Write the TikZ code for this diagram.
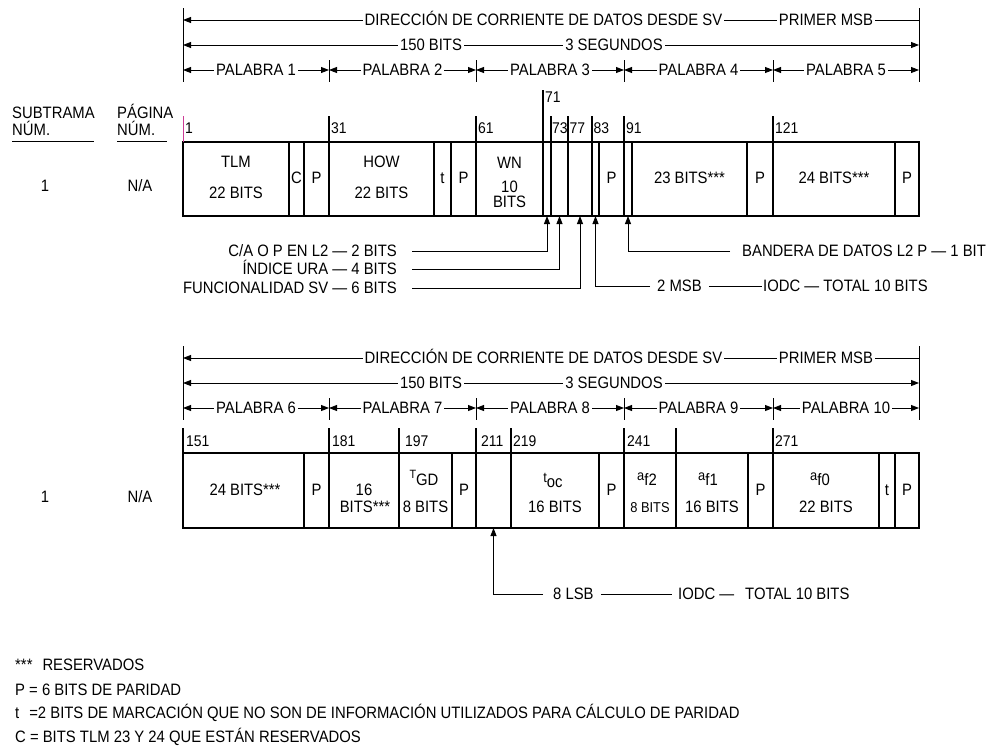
\documentclass[tikz,border=0pt]{standalone}
\usepackage{fontspec}
\setmainfont{Liberation Sans}[FakeStretch=0.9]
\usetikzlibrary{arrows.meta}
\definecolor{tickpink}{RGB}{205,60,150}
\newcommand{\hdrblock}[2]{%
  \begin{scope}[shift={(0,#1)}]
    \coordinate (hl#2) at (183,20);
    \coordinate (hr#2) at (919,20);
    \draw[ln] (183,8) -- (183,82);
    \draw[ln] (919,8) -- (919,82);
    \foreach \x in {329,476,624,773} \draw[ln] (\x,60) -- (\x,82);
    \draw[ln,{Triangle[length=8pt,width=6pt]}-] (hl#2) -- (hr#2);
    \node[lbl] (dir#2) at (543.5,20) {DIRECCIÓN DE CORRIENTE DE DATOS DESDE SV};
    \node[lbl] (msb#2) at (826,20) {PRIMER MSB};
    \coordinate (bl#2) at (183,45);
    \coordinate (br#2) at (919,45);
    \draw[darr] (bl#2) -- (br#2);
    \node[lbl] (bits#2) at (431,45) {150 BITS};
    \node[lbl] (seg#2) at (614,45) {3 SEGUNDOS};
    \foreach \a/\b [count=\i from 0] in {183/329,329/476,476/624,624/773,773/919}{
      \pgfmathtruncatemacro{\w}{#2+\i}
      \coordinate (wa\w) at (\a,70);
      \coordinate (wb\w) at (\b,70);
      \draw[darr] (wa\w) -- (wb\w);
      \node[lbl] (pal\w) at ({(\a+\b)/2},70) {PALABRA \w};
    }
  \end{scope}}
\begin{document}
\begin{tikzpicture}[x=1pt,y=-1pt,
  every node/.style={font=\fontsize{16.5}{16.5}\selectfont, text height=11.8pt, text depth=0pt, inner sep=0pt},
  ln/.style={line width=0.9pt},
  bx/.style={line width=1.1pt},
  arr/.style={line width=0.9pt, -{Triangle[length=8pt,width=6pt]}},
  darr/.style={line width=0.9pt, {Triangle[length=8pt,width=6pt]}-{Triangle[length=8pt,width=6pt]}},
  lbl/.style={fill=white, inner xsep=2pt, inner ysep=1pt},
  num/.style={anchor=west, font=\fontsize{15.5}{15.5}\selectfont, text height=11.1pt},
  small/.style={font=\fontsize{14.3}{14.3}\selectfont, text height=10.2pt},
]
\useasboundingbox (0,0) rectangle (996,750);

% ================= headers =================
\hdrblock{0}{1}
\hdrblock{338}{6}

% ================= frame 1 =================
\node[anchor=west] (sub1) at (12,112.5) {SUBTRAMA};
\node[anchor=west] (subn1) at (12,130) {NÚM.};
\draw[ln] (12,141) -- (94,141);
\node[anchor=west] (pag1) at (117,112.5) {PÁGINA};
\node[anchor=west] (pagn1) at (117,130) {NÚM.};
\draw[ln] (117,141) -- (167,141);
\node (sf1) at (45,186) {1};
\node (na1) at (140,186) {N/A};

\draw[bx] (183,142) rectangle (919,216);
\draw[ln,tickpink] (183,116) -- (183,142);
\foreach \x in {329,476,551,568,592,624,773} \draw[bx] (\x,116) -- (\x,216);
\draw[bx] (543,90) -- (543,216);
\foreach \x in {289,304,434,451,599,632,747,895} \draw[bx] (\x,142) -- (\x,216);

\node[num] (n1) at (185,128) {1};
\node[num] (n31) at (331,128) {31};
\node[num] (n61) at (478,128) {61};
\node[num] (n71) at (545,97) {71};
\node[num] (n73) at (552,128) {73};
\node[num] (n77) at (569.5,128) {77};
\node[num] (n83) at (593.5,128) {83};
\node[num] (n91) at (626,128) {91};
\node[num] (n121) at (775,128) {121};

\node (tlm) at (236,162) {TLM};
\node (tlmb) at (236,193) {22 BITS};
\node (c1) at (296.5,178) {C};
\node (p1) at (316.5,178) {P};
\node (how) at (381.5,162) {HOW};
\node (howb) at (381.5,193) {22 BITS};
\node (t1) at (442.5,178) {t};
\node (p2) at (463.5,178) {P};
\node (wn) at (509.5,163) {WN};
\node (wn10) at (509.5,187) {10};
\node (wnb) at (509.5,202) {BITS};
\node (p3) at (611.5,178) {P};
\node (b23) at (689.5,178) {23 BITS***};
\node (p4) at (760,178) {P};
\node (b24) at (834,178) {24 BITS***};
\node (p5) at (907,178) {P};

% field points (arrow tips)
\coordinate (fca) at (547,216);
\coordinate (fura) at (559.5,216);
\coordinate (fsv) at (580,216);
\coordinate (fmsb) at (595.5,216);
\coordinate (fl2) at (628,216);

\node[anchor=east] (lca) at (397,251) {C/A O P EN L2 — 2 BITS};
\node[anchor=east] (lura) at (397,269) {ÍNDICE URA — 4 BITS};
\node[anchor=east] (lsv) at (397,288) {FUNCIONALIDAD SV — 6 BITS};
\draw[arr] ([xshift=15pt]lca.east) -| (fca);
\draw[arr] ([xshift=15pt]lura.east) -| (fura);
\draw[arr] ([xshift=15pt]lsv.east) -| (fsv);

\node[anchor=west] (lban) at (742,251) {BANDERA DE DATOS L2 P — 1 BIT};
\draw[arr] ([xshift=-12pt]lban.west) -| (fl2);
\node[anchor=west] (lmsb) at (657,286) {2 MSB};
\node[anchor=west] (liodc) at (763,286) {IODC — TOTAL 10 BITS};
\draw[arr] ([xshift=-7pt]lmsb.west) -| (fmsb);
\draw[ln] ([xshift=7pt]lmsb.east) -- ([xshift=-1pt]liodc.west);

% ================= frame 2 =================
\node (sf2) at (45,497) {1};
\node (na2) at (140,497) {N/A};

\draw[bx] (183,453) rectangle (919,528);
\foreach \x in {183,329,399,476,511,624,676,773} \draw[bx] (\x,428) -- (\x,528);
\foreach \x in {304,452,599,748,879,895} \draw[bx] (\x,453) -- (\x,528);

\node[num] (n151) at (186,441) {151};
\node[num] (n181) at (332,441) {181};
\node[num] (n197) at (405,441) {197};
\node[num] (n211) at (481,441) {211};
\node[num] (n219) at (513,441) {219};
\node[num] (n241) at (627,441) {241};
\node[num] (n271) at (775,441) {271};

\node (c24) at (245,490) {24 BITS***};
\node (q1) at (316.5,490) {P};
\node (c16a) at (364,490) {16};
\node (c16b) at (365,507) {BITS***};
\node[anchor=base] (tgd) at (424,478) {{\fontsize{12}{12}\selectfont T}\raisebox{-7pt}{GD}};
\node (tgdb) at (425.5,507) {8 BITS};
\node (q2) at (464,490) {P};
\node[anchor=base] (toc) at (553,482) {{\fontsize{14.3}{14.3}\selectfont t}\raisebox{-5pt}{oc}};
\node (tocb) at (555,507) {16 BITS};
\node (q3) at (611.5,490) {P};
\node[anchor=base] (af2) at (647,480) {{\fontsize{14.3}{14.3}\selectfont a}\raisebox{-5pt}{f2}};
\node[small] (af2b) at (650,507) {8 BITS};
\node[anchor=base] (af1) at (708,480) {{\fontsize{14.3}{14.3}\selectfont a}\raisebox{-5pt}{f1}};
\node (af1b) at (712,507) {16 BITS};
\node (q4) at (760.5,490) {P};
\node[anchor=base] (af0) at (820,480) {{\fontsize{14.3}{14.3}\selectfont a}\raisebox{-5pt}{f0}};
\node (af0b) at (826,507) {22 BITS};
\node (t2) at (887,490) {t};
\node (q5) at (907,490) {P};

\coordinate (flsb) at (493.5,528);
\node[anchor=west] (llsb) at (553,594) {8 LSB};
\node[anchor=west] (liodc2) at (678,594) {IODC —};
\node[anchor=west] (ltot2) at (745,594) {TOTAL 10 BITS};
\draw[arr] ([xshift=-10pt]llsb.west) -| (flsb);
\draw[ln] ([xshift=7pt]llsb.east) -- ([xshift=-6pt]liodc2.west);

% ================= legend =================
\node[anchor=west] (g1) at (15,665) {***\hspace{10pt}RESERVADOS};
\node[anchor=west] (g2) at (15,690) {P = 6 BITS DE PARIDAD};
\node[anchor=west] (g3) at (15,713) {t\hspace{10pt}=2 BITS DE MARCACIÓN QUE NO SON DE INFORMACIÓN UTILIZADOS PARA CÁLCULO DE PARIDAD};
\node[anchor=west] (g4) at (15,737) {C = BITS TLM 23 Y 24 QUE ESTÁN RESERVADOS};
\end{tikzpicture}
\end{document}
